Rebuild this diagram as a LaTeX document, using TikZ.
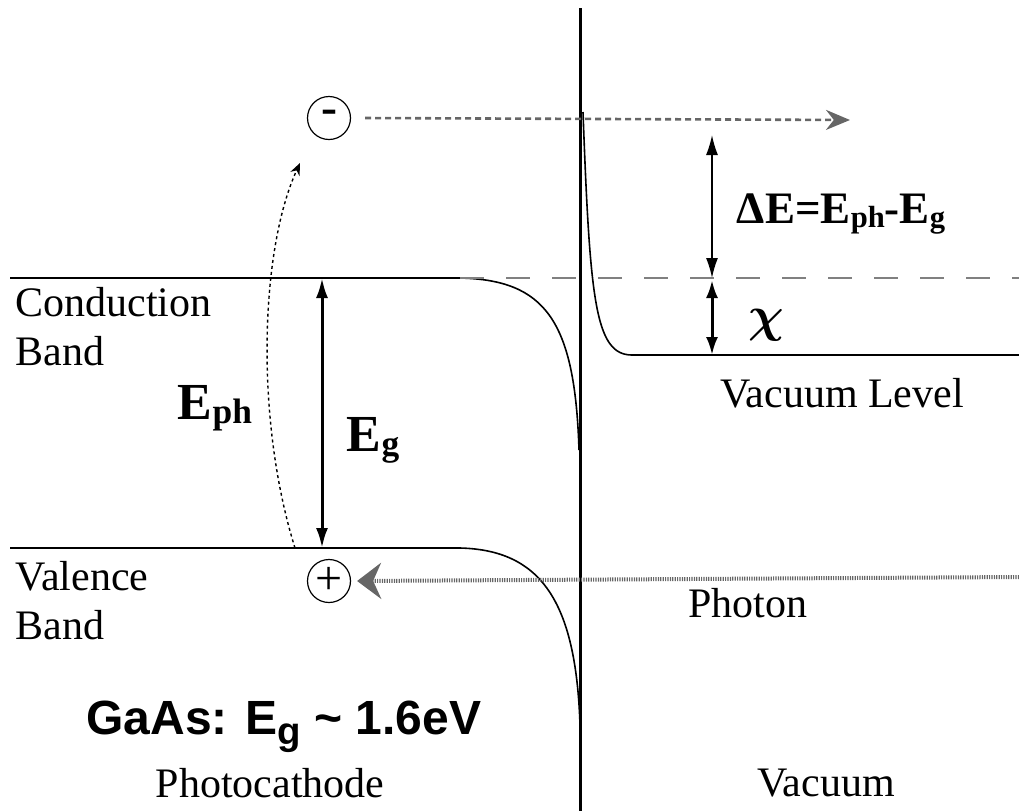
\documentclass[tikz,border=0pt]{standalone}
\usepackage{fontspec}
\setmainfont{Liberation Serif}
\newfontfamily\arialfont{Liberation Sans}
\usetikzlibrary{arrows.meta,positioning,shapes.geometric}

\newcommand\lsub[2][-2pt]{\raisebox{#1}{\scalebox{0.68}{#2}}}

\begin{document}
\begin{tikzpicture}[x=0.5pt,y=-0.5pt,>=Latex,
  lbl/.style={font=\fontsize{21}{24.5}\selectfont, inner sep=0pt, align=left},
  bold/.style={font=\fontsize{26}{30}\selectfont\bfseries, inner sep=0pt},
  band/.style={line width=1pt},
  bandcurve/.style={line width=0.8pt},
  charge/.style={draw, circle, line width=0.6pt, minimum size=21.5pt, inner sep=0pt, font=\fontsize{24}{26}\selectfont},
  bigarrow/.style={line width=1.5pt, {Latex[length=10pt,width=6pt]}-{Latex[length=10pt,width=6pt]}}]
  \useasboundingbox (0,0) rectangle (1019,811);
  % points of the band diagram
  \coordinate (vtop) at (580,8);
  \coordinate (vbot) at (580,811);
  \coordinate (cbL) at (10,278);
  \coordinate (cbR) at (460,278);
  \coordinate (cbE) at (579,450);
  \coordinate (vbL) at (10,548);
  \coordinate (vbR) at (460,548);
  \coordinate (vbE) at (580,725);
  \coordinate (dashR) at (1019,278);
  \coordinate (vacT) at (583,112);
  \coordinate (vacK) at (632,355);
  \coordinate (vacR) at (1019,355);
  \coordinate (egT) at (322,278);
  \coordinate (egB) at (322,548);
  \coordinate (deT) at (712,135);
  \coordinate (deB) at (712,278);
  \coordinate (chiB) at (712,355);
  \coordinate (outE) at (850,120);
  \coordinate (photS) at (1019,577);
  \coordinate (ephS) at (295,548);
  \coordinate (ephE) at (300,163);
  % interface
  \draw[line width=1.5pt] (vtop) -- (vbot);
  % bands
  \draw[band] (cbL) -- (cbR);
  \draw[bandcurve] (cbR) .. controls (545,280) and (575,320) .. (cbE);
  \draw[band] (vbL) -- (vbR);
  \draw[bandcurve] (vbR) .. controls (540,550) and (576,600) .. (vbE);
  \draw[line width=1.2pt, gray, dash pattern=on 12pt off 11pt] (cbR) -- (dashR);
  \draw[bandcurve] (vacT) .. controls (590,300) and (595,355) .. (vacK) -- (vacR);
  % charges
  \node[charge] (elec) at (329,118) {\raisebox{1pt}{\textbf{-}}};
  \node[charge] (hole) at (329,581) {+};
  \draw[gray!80!black, line width=1.3pt, dash pattern=on 3pt off 2pt,
    -{Stealth[length=12pt,width=10pt]}] ([xshift=7pt]elec.east) -- (outE);
  \draw[gray!80!black, line width=2pt, dash pattern=on 0.6pt off 0.6pt,
    -{Stealth[length=12pt,width=18pt,inset=4pt]}] (photS) -- ([xshift=3pt]hole.east);
  \draw[line width=0.7pt, dash pattern=on 1.5pt off 1.5pt, -{Stealth[length=6pt,width=5pt]}]
    (ephS) .. controls (255,420) and (260,250) .. (ephE);
  % energies
  \draw[bigarrow] (egT) -- (egB);
  \draw[line width=0.8pt, {Latex[length=10pt,width=6pt]}-{Latex[length=10pt,width=6pt]}] (deT) -- (deB);
  \draw[line width=1.5pt, {Latex[length=9pt,width=6pt]}-{Latex[length=9pt,width=6pt]}] ([yshift=-1pt]deB) -- (chiB);
  % labels
  \node[lbl, anchor=north west] (cband) at (15,287) {Conduction\\Band};
  \node[lbl, anchor=north west] (vband) at (15,561) {Valence\\Band};
  \node[bold] (eph) at (215,408) {E\lsub{ph}};
  \node[bold] (eg) at (373,440) {E\lsub{g}};
  \node[bold, font=\fontsize{22.5}{26}\selectfont\bfseries] (de) at (841,214) {ΔE=E\lsub{ph}-E\lsub{g}};
  \node[inner sep=0pt, font=\fontsize{28}{32}\selectfont\boldmath] (chi) at (766,325) {$\chi$};
  \node[lbl] (vlev) at (842,393) {Vacuum Level};
  \node[lbl] (phot) at (748,603) {Photon};
  \node[lbl] (pcath) at (270,783) {Photocathode};
  \node[lbl] (vac) at (826,783) {Vacuum};
  \node[inner sep=0pt, font=\fontsize{24}{28}\arialfont\bfseries] (gaas) at (284,727)
    {GaAs: E\raisebox{-5pt}{\scalebox{0.8}{g}} \textasciitilde{} 1.6eV};
\end{tikzpicture}
\end{document}
